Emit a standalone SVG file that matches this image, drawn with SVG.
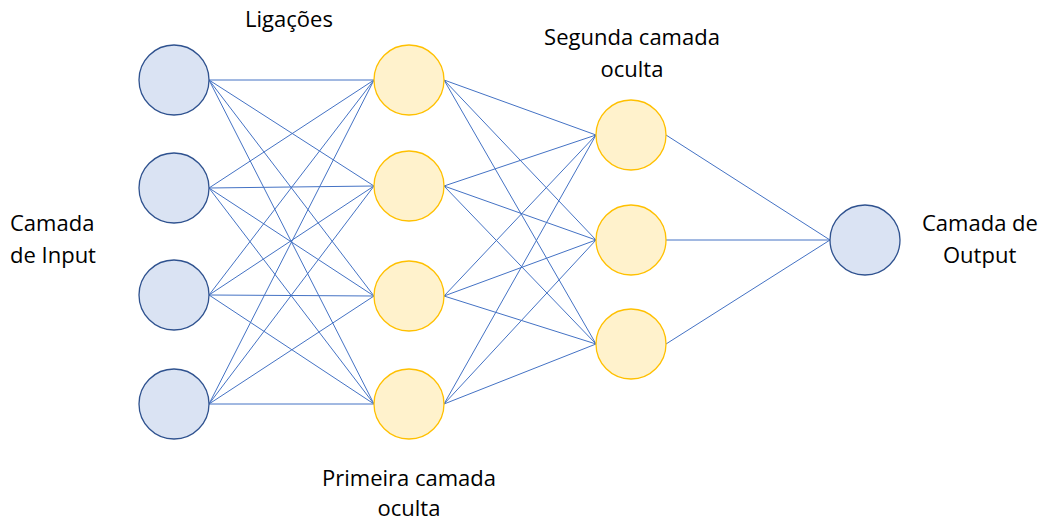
<svg xmlns="http://www.w3.org/2000/svg" width="1044" height="522" viewBox="0 0 1044 522">
  <style>
    .in { fill: #DAE3F3; stroke: #2F528F; stroke-width: 1.3; }
    .hid { fill: #FFF2CC; stroke: #FFC000; stroke-width: 1.3; }
    .links line { stroke: #4472C4; stroke-width: 1; }
    text { font-family: "Open Sans", "Liberation Sans", sans-serif; font-size: 22px; fill: #000; }
  </style>
  <rect width="1044" height="522" fill="#fff"/>

  <!-- connections -->
  <g id="connectors" class="links">
    <!-- input -> first hidden layer -->
    <line x1="209" y1="80" x2="374" y2="80"/>
    <line x1="209" y1="80" x2="374" y2="186"/>
    <line x1="209" y1="80" x2="374" y2="296"/>
    <line x1="209" y1="80" x2="374" y2="404"/>
    <line x1="209" y1="188" x2="374" y2="80"/>
    <line x1="209" y1="188" x2="374" y2="186"/>
    <line x1="209" y1="188" x2="374" y2="296"/>
    <line x1="209" y1="188" x2="374" y2="404"/>
    <line x1="209" y1="295" x2="374" y2="80"/>
    <line x1="209" y1="295" x2="374" y2="186"/>
    <line x1="209" y1="295" x2="374" y2="296"/>
    <line x1="209" y1="295" x2="374" y2="404"/>
    <line x1="209" y1="404" x2="374" y2="80"/>
    <line x1="209" y1="404" x2="374" y2="186"/>
    <line x1="209" y1="404" x2="374" y2="296"/>
    <line x1="209" y1="404" x2="374" y2="404"/>
    <!-- first hidden -> second hidden -->
    <line x1="444" y1="80" x2="596" y2="135"/>
    <line x1="444" y1="80" x2="596" y2="240"/>
    <line x1="444" y1="80" x2="596" y2="344"/>
    <line x1="444" y1="186" x2="596" y2="135"/>
    <line x1="444" y1="186" x2="596" y2="240"/>
    <line x1="444" y1="186" x2="596" y2="344"/>
    <line x1="444" y1="296" x2="596" y2="135"/>
    <line x1="444" y1="296" x2="596" y2="240"/>
    <line x1="444" y1="296" x2="596" y2="344"/>
    <line x1="444" y1="404" x2="596" y2="135"/>
    <line x1="444" y1="404" x2="596" y2="240"/>
    <line x1="444" y1="404" x2="596" y2="344"/>
    <!-- second hidden -> output -->
    <line x1="666" y1="135" x2="830" y2="240"/>
    <line x1="666" y1="240" x2="830" y2="240"/>
    <line x1="666" y1="344" x2="830" y2="240"/>
  </g>

  <!-- input layer -->
  <g id="input-1"><circle class="in" cx="174" cy="80" r="35"/></g>
  <g id="input-2"><circle class="in" cx="174" cy="188" r="35"/></g>
  <g id="input-3"><circle class="in" cx="174" cy="295" r="35"/></g>
  <g id="input-4"><circle class="in" cx="174" cy="404" r="35"/></g>

  <!-- first hidden layer -->
  <g id="hidden1-1"><circle class="hid" cx="409" cy="80" r="35"/></g>
  <g id="hidden1-2"><circle class="hid" cx="409" cy="186" r="35"/></g>
  <g id="hidden1-3"><circle class="hid" cx="409" cy="296" r="35"/></g>
  <g id="hidden1-4"><circle class="hid" cx="409" cy="404" r="35"/></g>

  <!-- second hidden layer -->
  <g id="hidden2-1"><circle class="hid" cx="631" cy="135" r="35"/></g>
  <g id="hidden2-2"><circle class="hid" cx="631" cy="240" r="35"/></g>
  <g id="hidden2-3"><circle class="hid" cx="631" cy="344" r="35"/></g>

  <!-- output layer -->
  <g id="output"><circle class="in" cx="865" cy="240" r="35"/></g>

  <!-- labels -->
  <g id="labels">
    <text x="289" y="27" text-anchor="middle">Ligações</text>
    <text x="632" y="45" text-anchor="middle">Segunda camada</text>
    <text x="632" y="77" text-anchor="middle">oculta</text>
    <text x="10" y="231">Camada</text>
    <text x="10" y="263">de Input</text>
    <text x="922" y="231">Camada de</text>
    <text x="943" y="263">Output</text>
    <text x="409" y="486" text-anchor="middle">Primeira camada</text>
    <text x="409" y="516" text-anchor="middle">oculta</text>
  </g>
</svg>
